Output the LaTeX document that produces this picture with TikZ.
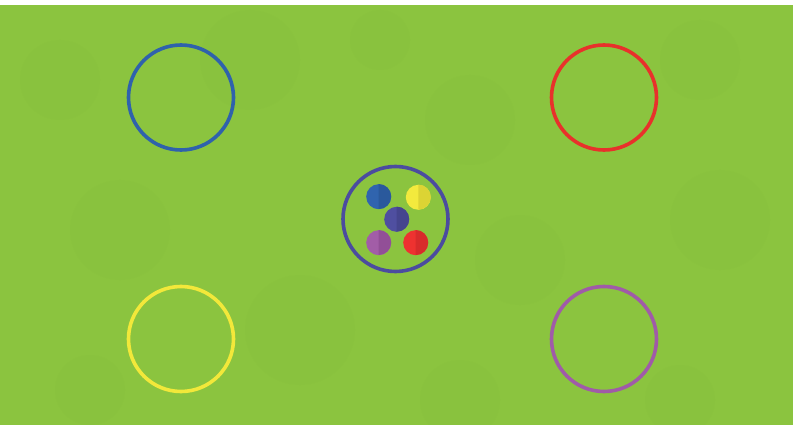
\documentclass[tikz,border=0pt]{standalone}
\begin{document}
\begin{tikzpicture}[x=1pt,y=-1pt,
  ring/.style={draw, line width=3.6pt, circle, minimum size=105pt, inner sep=0pt},
]
\definecolor{grass}{HTML}{8BC43F}
\definecolor{grassdark}{HTML}{83BA3B}
\definecolor{cblue}{HTML}{2F62AC}
\definecolor{cred}{HTML}{E8312B}
\definecolor{cyellow}{HTML}{F2E83A}
\definecolor{cpurple}{HTML}{A05BA8}
\definecolor{cindigo}{HTML}{4B4C9F}
\useasboundingbox (0,0) rectangle (793,425);
\fill[white] (0,0) rectangle (793,5);
\fill[grass] (0,5) rectangle (793,425);
% subtle texture patches
\foreach \x/\y/\r in {60/80/40,250/60/50,470/120/45,700/60/40,120/230/50,300/330/55,520/260/45,720/220/50,90/390/35,460/400/40,680/400/35,380/40/30}
  \fill[grassdark, opacity=0.15] (\x,\y) circle (\r);
% rings
\node[ring, draw=cblue]   (blue)   at (181,97.5) {};
\node[ring, draw=cred]    (red)    at (604,97.5) {};
\node[ring, draw=cyellow] (yellow) at (181,339) {};
\node[ring, draw=cpurple] (purple) at (604,339) {};
\node[ring, draw=cindigo] (center) at (395.5,219) {};
% two-tone dots
\newcommand\twotonedot[5]{%
  \node[circle, fill=#4, minimum size=25pt, inner sep=0pt] (#1) at (#2,#3) {};
  \fill[#5] (#1.north) arc[start angle=-90, end angle=90, radius=12.5] -- cycle;
}
\definecolor{dotbluelight}{HTML}{3064AE}\definecolor{dotbluedark}{HTML}{2A599C}
\definecolor{dotyellowlight}{HTML}{F3EA3D}\definecolor{dotyellowdark}{HTML}{DCD434}
\definecolor{dotindigolight}{HTML}{4F4FA0}\definecolor{dotindigodark}{HTML}{45458E}
\definecolor{dotpurplelight}{HTML}{A25DA7}\definecolor{dotpurpledark}{HTML}{924F97}
\definecolor{dotredlight}{HTML}{EE3230}\definecolor{dotreddark}{HTML}{D82B2B}
\twotonedot{dblue}{378.7}{196.7}{dotbluelight}{dotbluedark}
\twotonedot{dyellow}{418.3}{197.3}{dotyellowlight}{dotyellowdark}
\twotonedot{dindigo}{396.7}{219.3}{dotindigolight}{dotindigodark}
\twotonedot{dpurple}{378.7}{242.7}{dotpurplelight}{dotpurpledark}
\twotonedot{dred}{415.7}{242.7}{dotredlight}{dotreddark}
\end{tikzpicture}
\end{document}
